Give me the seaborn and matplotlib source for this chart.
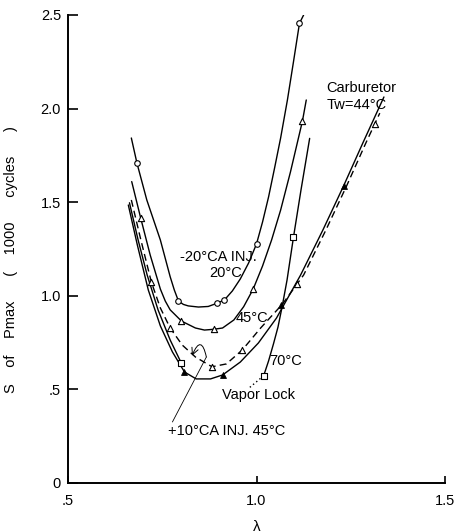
import matplotlib
matplotlib.use("Agg")
import matplotlib.pyplot as plt
import seaborn as sns

# ---- data (lambda, S of Pmax in 1000 cycles) ----
# -20 CA INJ., 20 C  (curve trace and circle markers)
c20_x = [0.668, 0.683, 0.709, 0.745, 0.771, 0.782, 0.793, 0.806, 0.819, 0.846, 0.872, 0.895, 0.915, 0.936, 0.957, 0.979, 1.000,
         1.016, 1.032, 1.048, 1.064, 1.082, 1.098, 1.114, 1.125]
c20_y = [1.843, 1.708, 1.512, 1.298, 1.102, 1.031, 0.972, 0.954, 0.946, 0.940, 0.943, 0.960, 0.978, 1.026, 1.090, 1.175, 1.277,
         1.394, 1.528, 1.683, 1.843, 2.046, 2.249, 2.456, 2.500]
m20_x = [0.683, 0.793, 0.895, 0.915, 1.000, 1.114]
m20_y = [1.708, 0.972, 0.960, 0.978, 1.277, 2.456]

# -20 CA INJ., 45 C  (triangles)
c45_x = [0.669, 0.693, 0.718, 0.745, 0.758, 0.771, 0.801, 0.838, 0.862, 0.886, 0.910, 0.940, 0.966, 0.991, 1.016, 1.040, 1.064,
         1.090, 1.122, 1.132]
c45_y = [1.610, 1.414, 1.218, 1.036, 0.972, 0.925, 0.865, 0.828, 0.817, 0.821, 0.828, 0.871, 0.942, 1.035, 1.159, 1.298, 1.458,
         1.661, 1.935, 2.046]
m45_x = [0.693, 0.801, 0.886, 0.991, 1.122]
m45_y = [1.414, 0.865, 0.821, 1.035, 1.935]

# -20 CA INJ., 70 C  (squares), split by vapor lock
c70a_x = [0.663, 0.686, 0.710, 0.739, 0.771, 0.801]
c70a_y = [1.497, 1.298, 1.111, 0.924, 0.764, 0.639]
c70b_x = [1.019, 1.032, 1.045, 1.057, 1.068, 1.081, 1.098, 1.118, 1.141]
c70b_y = [0.573, 0.652, 0.743, 0.833, 0.942, 1.084, 1.312, 1.565, 1.841]
vl_x = [1.019, 0.980]
vl_y = [0.573, 0.507]
m70_x = [0.801, 1.019, 1.098]
m70_y = [0.639, 0.573, 1.312]

# Carburetor Tw=44 C (solid, small filled triangles)
carb_x = [0.660, 0.684, 0.713, 0.745, 0.777, 0.809, 0.840, 0.878, 0.910, 0.957, 1.005, 1.053, 1.117, 1.176, 1.231, 1.282, 1.338]
carb_y = [1.485, 1.271, 1.031, 0.839, 0.700, 0.593, 0.556, 0.556, 0.577, 0.646, 0.748, 0.881, 1.111, 1.351, 1.587, 1.816, 2.062]
mcarb_x = [0.809, 0.910, 1.064, 1.231]
mcarb_y = [0.593, 0.577, 0.950, 1.587]

# +10 CA INJ., 45 C (dashed, triangles)
c10_x = [0.668, 0.692, 0.721, 0.745, 0.771, 0.803, 0.838, 0.882, 0.920, 0.962, 1.011, 1.069, 1.125, 1.184, 1.239, 1.290, 1.327]
c10_y = [1.512, 1.309, 1.074, 0.935, 0.828, 0.737, 0.673, 0.621, 0.636, 0.710, 0.828, 0.956, 1.111, 1.351, 1.587, 1.816, 1.976]
m10_x = [0.721, 0.771, 0.882, 0.962, 1.108, 1.314]
m10_y = [1.074, 0.828, 0.621, 0.710, 1.063, 1.918]

x_ticks = [0.5, 1.0, 1.5]
x_tick_labels = [".5", "1.0", "1.5"]
y_ticks = [0, 0.5, 1.0, 1.5, 2.0, 2.5]
y_tick_labels = ["0", ".5", "1.0", "1.5", "2.0", "2.5"]

sns.set_theme(style="ticks")
plt.rcParams["font.family"] = ["Liberation Sans", "DejaVu Sans"]

fig = plt.figure(figsize=(4.6, 5.32), dpi=100)
ax = fig.add_axes([68 / 460, 1 - 483 / 532, (445 - 68) / 460, (483 - 15) / 532])

lk = dict(color="black", lw=1.0, sort=False, estimator=None, ax=ax, legend=False)
sns.lineplot(x=c20_x, y=c20_y, **lk)
sns.lineplot(x=c45_x, y=c45_y, **lk)
sns.lineplot(x=c70a_x, y=c70a_y, **lk)
sns.lineplot(x=c70b_x, y=c70b_y, **lk)
sns.lineplot(x=carb_x, y=carb_y, **lk)
sns.lineplot(x=c10_x, y=c10_y, linestyle=(0, (5, 3)), **lk)
sns.lineplot(x=vl_x, y=vl_y, linestyle=(0, (1, 2)), **lk)

mk = dict(ax=ax, zorder=4, legend=False)
sns.scatterplot(x=m20_x, y=m20_y, marker="o", s=16, facecolor="white", edgecolor="black", linewidth=0.8, **mk)
sns.scatterplot(x=m45_x, y=m45_y, marker="^", s=20, facecolor="white", edgecolor="black", linewidth=0.8, **mk)
sns.scatterplot(x=m70_x, y=m70_y, marker="s", s=14, facecolor="white", edgecolor="black", linewidth=0.8, **mk)
sns.scatterplot(x=mcarb_x, y=mcarb_y, marker="^", s=18, facecolor="black", edgecolor="black", linewidth=0.6, **mk)
sns.scatterplot(x=m10_x, y=m10_y, marker="^", s=20, facecolor="white", edgecolor="black", linewidth=0.8, **mk)

ax.set_xlim(0.5, 1.5)
ax.set_ylim(0, 2.5)
ax.set_xticks(x_ticks)
ax.set_xticklabels(x_tick_labels)
ax.set_yticks(y_ticks)
ax.set_yticklabels(y_tick_labels)
ax.tick_params(axis="y", direction="in", length=7, width=1.2, pad=5, labelsize=10.5, colors="black")
ax.tick_params(axis="x", direction="in", length=5, width=1.2, pad=8, labelsize=10.5, colors="black")
sns.despine(ax=ax)
for s in ("left", "bottom"):
    ax.spines[s].set_linewidth(1.4)
    ax.spines[s].set_color("black")

ax.set_xlabel("λ", fontsize=11, color="black")
ax.xaxis.set_label_coords(0.5, -0.078)
ax.set_ylabel("S    of    Pmax      (    1000      cycles      )", fontsize=10.5, color="black")
ax.yaxis.set_label_coords(-0.133, 0.4765)

tk = dict(fontsize=10.5, color="black")
ax.text(0.899, 1.207, "-20°CA INJ.", ha="center", va="center", **tk)
ax.text(0.918, 1.122, "20°C", ha="center", va="center", **tk)
ax.text(0.989, 0.881, "45°C", ha="center", va="center", **tk)
ax.text(1.077, 0.652, "70°C", ha="center", va="center", **tk)
ax.text(1.005, 0.470, "Vapor Lock", ha="center", va="center", **tk)
ax.text(0.766, 0.278, "+10°CA INJ. 45°C", ha="left", va="center", **tk)
ax.text(1.186, 2.110, "Carburetor", ha="left", va="center", **tk)
ax.text(1.186, 2.019, "Tw=44°C", ha="left", va="center", **tk)

# arrow of the +10 CA label
ax.plot([0.777, 0.867], [0.326, 0.673], color="black", lw=0.6)
ax.annotate("", xy=(0.829, 0.680), xytext=(0.867, 0.673),
            arrowprops=dict(arrowstyle="->", color="black", lw=0.7,
                            connectionstyle="arc3,rad=1.6", shrinkA=0, shrinkB=0))

fig.savefig("out.png", dpi=100, facecolor="white")
